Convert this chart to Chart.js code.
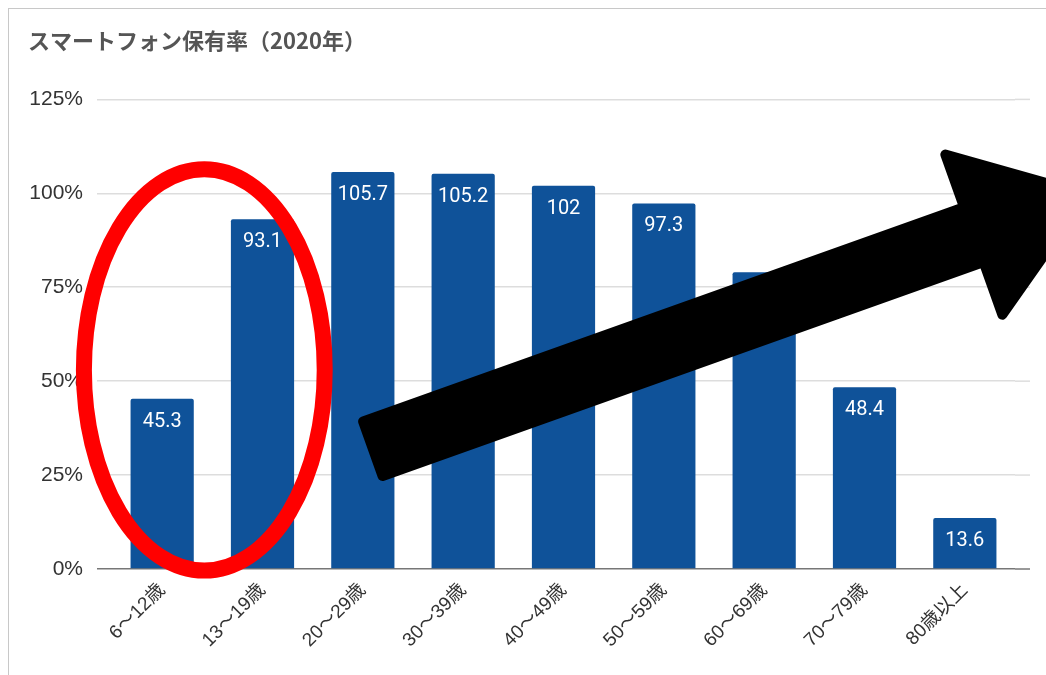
<!DOCTYPE html>
<html>
<head>
<meta charset="utf-8">
<script src="https://cdn.jsdelivr.net/npm/chart.js@4"></script>
<style>
  html, body { margin: 0; padding: 0; background: #fff; }
  #wrap { width: 1046px; height: 675px; position: relative; }
</style>
</head>
<body>
<div id="wrap"><canvas id="canvas"></canvas></div>
<script>
// データ
const categories = ['6～12歳', '13～19歳', '20～29歳', '30～39歳', '40～49歳', '50～59歳', '60～69歳', '70～79歳', '80歳以上'];
const ownership = [45.3, 93.1, 105.7, 105.2, 102, 97.3, 79, 48.4, 13.6];
const yTicks = [0, 25, 50, 75, 100, 125];

const barColor = '#0f5299';
const jpFont = '"Liberation Sans", "Noto Sans CJK JP", sans-serif';

// 枠線
const framePlugin = {
  id: 'frame',
  beforeDraw(chart) {
    const c = chart.ctx;
    c.save();
    c.strokeStyle = '#c8c8c8';
    c.lineWidth = 1;
    c.strokeRect(8.5, 8.5, 3000, 3000);
    c.restore();
  }
};

// 目盛線を右へ少し延ばす
const gridExtend = {
  id: 'gridExtend',
  beforeDatasetsDraw(chart) {
    const c = chart.ctx;
    const ys = chart.scales.y;
    const r = chart.chartArea.right;
    c.save();
    c.lineWidth = 1.5;
    yTicks.forEach(v => {
      const py = ys.getPixelForValue(v);
      c.strokeStyle = v === 0 ? '#777777' : '#dddddd';
      c.beginPath();
      c.moveTo(r, py);
      c.lineTo(r + 15, py);
      c.stroke();
    });
    c.restore();
  }
};

// 棒の中の数値
const valueLabels = {
  id: 'valueLabels',
  afterDatasetsDraw(chart) {
    const c = chart.ctx;
    const meta = chart.getDatasetMeta(0);
    c.save();
    c.fillStyle = '#ffffff';
    c.font = '20px Roboto, "Noto Sans", sans-serif';
    c.textAlign = 'center';
    c.textBaseline = 'middle';
    meta.data.forEach((bar, i) => {
      c.fillText(String(ownership[i]), bar.x, bar.y + 23);
    });
    c.restore();
  }
};

// 赤い丸と黒い矢印
const marks = {
  id: 'marks',
  afterDraw(chart) {
    const c = chart.ctx;
    const xs = chart.scales.x, ys = chart.scales.y;
    const step = xs.getPixelForValue(1) - xs.getPixelForValue(0);

    // 楕円
    const cx = xs.getPixelForValue(0.42);
    const cy = ys.getPixelForValue(53);
    c.save();
    c.strokeStyle = '#ff0000';
    c.lineWidth = 16;
    c.beginPath();
    c.ellipse(cx, cy, step * 1.2, step * 2.0, 0, 0, Math.PI * 2);
    c.stroke();
    c.restore();

    // 矢印
    const tx = xs.getPixelForValue(2.1), ty = ys.getPixelForValue(32);
    const hx = xs.getPixelForValue(8.09), hy = ys.getPixelForValue(89);
    const dx = hx - tx, dy = hy - ty;
    const len = Math.hypot(dx, dy);
    const ux = dx / len, uy = dy / len;
    const nx = -uy, ny = ux;
    const sw = 29, hw = 85, hl = 120;
    const pts = [
      [tx + nx * sw, ty + ny * sw],
      [hx + nx * sw, hy + ny * sw],
      [hx + nx * hw, hy + ny * hw],
      [hx + ux * hl, hy + uy * hl],
      [hx - nx * hw, hy - ny * hw],
      [hx - nx * sw, hy - ny * sw],
      [tx - nx * sw, ty - ny * sw]
    ];
    c.save();
    c.fillStyle = '#000';
    c.strokeStyle = '#000';
    c.lineWidth = 10;
    c.lineJoin = 'round';
    c.beginPath();
    pts.forEach((p, i) => i ? c.lineTo(p[0], p[1]) : c.moveTo(p[0], p[1]));
    c.closePath();
    c.fill();
    c.stroke();
    c.restore();
  }
};

const ctx = document.getElementById('canvas');

new Chart(ctx, {
  type: 'bar',
  data: {
    labels: categories,
    datasets: [{
      label: 'スマートフォン保有率',
      data: ownership,
      backgroundColor: barColor,
      borderRadius: { topLeft: 2, topRight: 2 },
      borderSkipped: 'bottom',
      barPercentage: 0.9,
      categoryPercentage: 0.7
    }]
  },
  options: {
    responsive: true,
    maintainAspectRatio: false,
    animation: false,
    layout: { padding: { left: 28, right: 31, top: 0, bottom: 0 } },
    plugins: {
      legend: { display: false },
      tooltip: { enabled: false },
      title: {
        display: true,
        text: 'スマートフォン保有率（2020年）',
        align: 'start',
        color: '#555555',
        font: { family: '"Noto Sans CJK JP", sans-serif', size: 22, weight: 'bold', lineHeight: 1.2 },
        padding: { top: 27, bottom: 46 }
      }
    },
    scales: {
      x: {
        grid: { display: false },
        border: { display: false },
        ticks: {
          color: '#333',
          font: { family: jpFont, size: 19 },
          minRotation: 45,
          maxRotation: 45,
          padding: 2
        },
        afterFit(scale) { scale.height = 106; }
      },
      y: {
        min: 0,
        max: 125,
        afterBuildTicks(scale) { scale.ticks = yTicks.map(v => ({ value: v })); },
        grid: {
          color: c => c.tick && c.tick.value === 0 ? '#777777' : '#dddddd',
          lineWidth: 1.5,
          tickLength: 15
        },
        border: { display: false },
        ticks: {
          color: '#333',
          font: { family: '"Liberation Sans", Arial, sans-serif', size: 21 },
          padding: 14,
          callback: v => v + '%'
        },
        afterFit(scale) { scale.width = 84; }
      }
    }
  },
  plugins: [framePlugin, gridExtend, valueLabels, marks]
});
</script>
</body>
</html>
